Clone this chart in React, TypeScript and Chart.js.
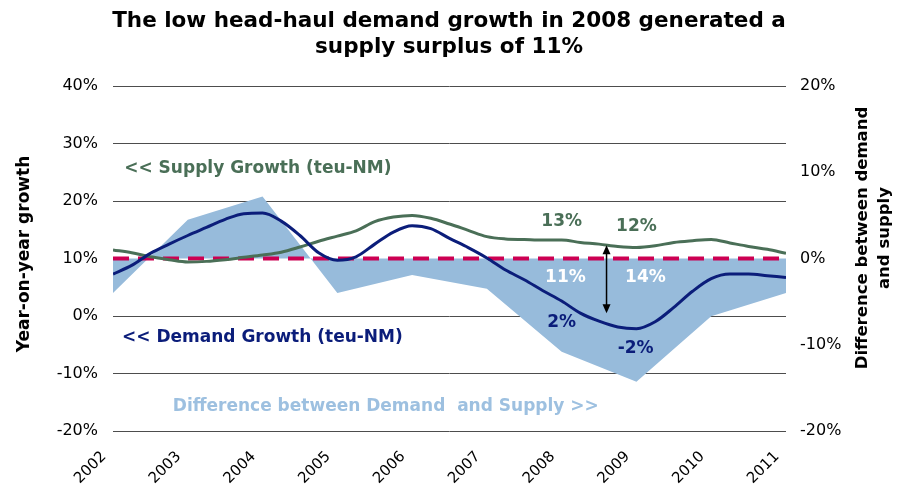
import React, { useEffect, useRef } from "react";
import { Chart, registerables } from "chart.js";

Chart.register(...registerables);

// Time points (decimal years) for the growth curves
const timeAxis = [
  2002.0, 2002.25, 2002.5, 2002.75, 2003.0, 2003.25, 2003.5, 2003.75,
  2004.0, 2004.25, 2004.5, 2004.75, 2005.0, 2005.25, 2005.5, 2005.75,
  2006.0, 2006.25, 2006.5, 2006.75, 2007.0, 2007.25, 2007.5, 2007.75,
  2008.0, 2008.25, 2008.5, 2008.75, 2009.0, 2009.25, 2009.5, 2009.75,
  2010.0, 2010.25, 2010.5, 2010.75, 2011.0,
];

// Supply growth (teu-NM), year-on-year %
const supplyGrowth = [
  11.5, 11.0, 10.3, 9.8, 9.4, 9.5, 9.8, 10.2,
  10.6, 11.1, 12.0, 13.0, 13.9, 14.8, 16.4, 17.2,
  17.5, 17.0, 16.0, 14.9, 13.8, 13.4, 13.3, 13.2,
  13.2, 12.8, 12.5, 12.1, 11.9, 12.2, 12.8, 13.1,
  13.3, 12.7, 12.1, 11.6, 10.9,
];

// Demand growth (teu-NM), year-on-year %
const demandGrowth = [
  7.3, 8.8, 10.9, 12.5, 14.0, 15.4, 16.8, 17.8,
  17.9, 16.5, 14.0, 11.0, 9.7, 10.3, 12.5, 14.6,
  15.7, 15.2, 13.5, 11.9, 10.1, 8.0, 6.3, 4.4,
  2.6, 0.5, -0.9, -1.9, -2.2, -1.0, 1.5, 4.3,
  6.5, 7.3, 7.3, 7.0, 6.7,
];

// Difference between demand and supply (right axis), annual
const diffYears = [2002, 2003, 2004, 2005, 2006, 2007, 2008, 2009, 2010, 2011];
const diffValues = [-4.0, 4.5, 7.2, -4.0, -1.9, -3.5, -10.8, -14.3, -6.7, -4.0];

const titleLines = [
  "The low head-haul demand growth in 2008 generated a",
  "supply surplus of 11%",
];
const leftAxisTitle = "Year-on-year growth";
const rightAxisTitle = ["Difference between demand", "and supply"];

const FONT = "'DejaVu Sans', Verdana, sans-serif";
const C_FILL = "#97BBDB";
const C_SUPPLY = "#4A6F57";
const C_DEMAND = "#0B1D7A";
const C_DASH = "#CC0052";

// Text annotations in data coordinates (left axis)
const annotations = [
  { text: "<< Supply Growth (teu-NM)", x: 2002.15, y: 25.7, color: C_SUPPLY, align: "left" },
  { text: "<< Demand Growth (teu-NM)", x: 2002.12, y: -3.8, color: C_DEMAND, align: "left" },
  { text: "Difference between Demand  and Supply >>", x: 2002.8, y: -15.7, color: "#9DC0E0", align: "left" },
  { text: "13%", x: 2008.0, y: 16.5, color: C_SUPPLY, align: "center" },
  { text: "12%", x: 2009.0, y: 15.5, color: C_SUPPLY, align: "center" },
  { text: "11%", x: 2008.05, y: 6.6, color: "#FFFFFF", align: "center" },
  { text: "14%", x: 2009.12, y: 6.6, color: "#FFFFFF", align: "center" },
  { text: "2%", x: 2008.0, y: -1.2, color: C_DEMAND, align: "center" },
  { text: "-2%", x: 2008.99, y: -5.6, color: C_DEMAND, align: "center" },
];
const arrow = { x: 2008.6, yTop: 12.3, yBottom: 0.5 };

const overlayPlugin = {
  id: "overlay",
  afterDatasetsDraw(chart: any) {
    const { ctx, scales } = chart;
    const xs = scales.x;
    const ys = scales.y;
    ctx.save();
    ctx.font = `bold 17px ${FONT}`;
    ctx.textBaseline = "middle";
    for (const a of annotations) {
      ctx.fillStyle = a.color;
      ctx.textAlign = a.align as CanvasTextAlign;
      ctx.fillText(a.text, xs.getPixelForValue(a.x), ys.getPixelForValue(a.y));
    }
    const ax = xs.getPixelForValue(arrow.x);
    const at = ys.getPixelForValue(arrow.yTop);
    const ab = ys.getPixelForValue(arrow.yBottom);
    ctx.strokeStyle = "#000";
    ctx.fillStyle = "#000";
    ctx.lineWidth = 1.5;
    ctx.beginPath();
    ctx.moveTo(ax, at + 4);
    ctx.lineTo(ax, ab - 4);
    ctx.stroke();
    ctx.beginPath();
    ctx.moveTo(ax, at);
    ctx.lineTo(ax - 4, at + 9);
    ctx.lineTo(ax + 4, at + 9);
    ctx.closePath();
    ctx.fill();
    ctx.beginPath();
    ctx.moveTo(ax, ab);
    ctx.lineTo(ax - 4, ab - 9);
    ctx.lineTo(ax + 4, ab - 9);
    ctx.closePath();
    ctx.fill();
    ctx.restore();
  },
  afterDraw(chart: any) {
    const { ctx } = chart;
    ctx.save();
    ctx.fillStyle = "#000";
    ctx.textAlign = "center";
    ctx.textBaseline = "alphabetic";
    ctx.font = `bold 21.5px ${FONT}`;
    ctx.fillText(titleLines[0], 449, 27);
    ctx.fillText(titleLines[1], 449, 53);
    ctx.textBaseline = "middle";
    ctx.font = `bold 17px ${FONT}`;
    ctx.save();
    ctx.translate(25, 254);
    ctx.rotate(-Math.PI / 2);
    ctx.fillText(leftAxisTitle, 0, 0);
    ctx.restore();
    ctx.font = `bold 16.5px ${FONT}`;
    ctx.save();
    ctx.translate(873.5, 238);
    ctx.rotate(-Math.PI / 2);
    ctx.fillText(rightAxisTitle[0], 0, -11);
    ctx.fillText(rightAxisTitle[1], 0, 11);
    ctx.restore();
    ctx.restore();
  },
};

export default function App() {
  const ref = useRef<HTMLCanvasElement | null>(null);
  useEffect(() => {
    document.body.style.margin = "0";
    const canvas = ref.current!;
    const chart = new Chart(canvas, {
      type: "line",
      data: {
        datasets: [
          {
            label: "Supply",
            data: timeAxis.map((t, i) => ({ x: t, y: supplyGrowth[i] })),
            borderColor: C_SUPPLY,
            borderWidth: 3,
            pointRadius: 0,
            cubicInterpolationMode: "monotone",
            fill: false,
            yAxisID: "y",
            order: 1,
          },
          {
            label: "Demand",
            data: timeAxis.map((t, i) => ({ x: t, y: demandGrowth[i] })),
            borderColor: C_DEMAND,
            borderWidth: 3,
            pointRadius: 0,
            cubicInterpolationMode: "monotone",
            fill: false,
            yAxisID: "y",
            order: 0,
          },
          {
            label: "Zero",
            data: [
              { x: diffYears[0], y: 0 },
              { x: diffYears[diffYears.length - 1], y: 0 },
            ],
            borderColor: C_DASH,
            borderWidth: 4,
            borderDash: [16, 9],
            borderCapStyle: "butt",
            pointRadius: 0,
            fill: false,
            yAxisID: "y2",
            order: 2,
          },
          {
            label: "Difference",
            data: diffYears.map((t, i) => ({ x: t, y: diffValues[i] })),
            borderWidth: 0,
            borderColor: "rgba(0,0,0,0)",
            backgroundColor: C_FILL,
            pointRadius: 0,
            tension: 0,
            fill: "origin",
            yAxisID: "y2",
            order: 3,
          },
        ],
      },
      options: {
        animation: false,
        responsive: false,
        devicePixelRatio: 1,
        layout: { padding: { top: 86, left: 0, right: 0, bottom: 0 } },
        plugins: { legend: { display: false }, tooltip: { enabled: false }, title: { display: false } },
        scales: {
          x: {
            type: "linear",
            min: 2002,
            max: 2011,
            grid: { display: false },
            border: { display: false },
            ticks: {
              stepSize: 1,
              maxRotation: 45,
              minRotation: 45,
              color: "#000",
              font: { family: FONT, size: 15 },
              padding: 9,
              labelOffset: -9,
              callback: (v: any) => String(v),
            },
            afterFit: (s: any) => { s.height = 61; },
          },
          y: {
            position: "left",
            min: -20,
            max: 40,
            grid: {
              color: (c: any) => (c.tick && c.tick.value === 10 ? "rgba(0,0,0,0)" : "#4d4d4d"),
              lineWidth: 1,
              drawTicks: false,
            },
            border: { display: false },
            ticks: {
              stepSize: 10,
              color: "#000",
              font: { family: FONT, size: 16 },
              padding: 15,
              callback: (v: any) => `${v}%`,
            },
            afterFit: (s: any) => { s.width = 113; },
          },
          y2: {
            position: "right",
            min: -20,
            max: 20,
            grid: { display: false, drawTicks: false },
            border: { display: false },
            ticks: {
              stepSize: 10,
              color: "#000",
              font: { family: FONT, size: 16 },
              padding: 14,
              callback: (v: any) => `${v}%`,
            },
            afterFit: (s: any) => { s.width = 117; },
          },
        },
      },
      plugins: [overlayPlugin],
    } as any);
    return () => chart.destroy();
  }, []);
  return (
    <div style={{ width: 903, height: 492, background: "#fff" }}>
      <canvas ref={ref} width={903} height={492} />
    </div>
  );
}
